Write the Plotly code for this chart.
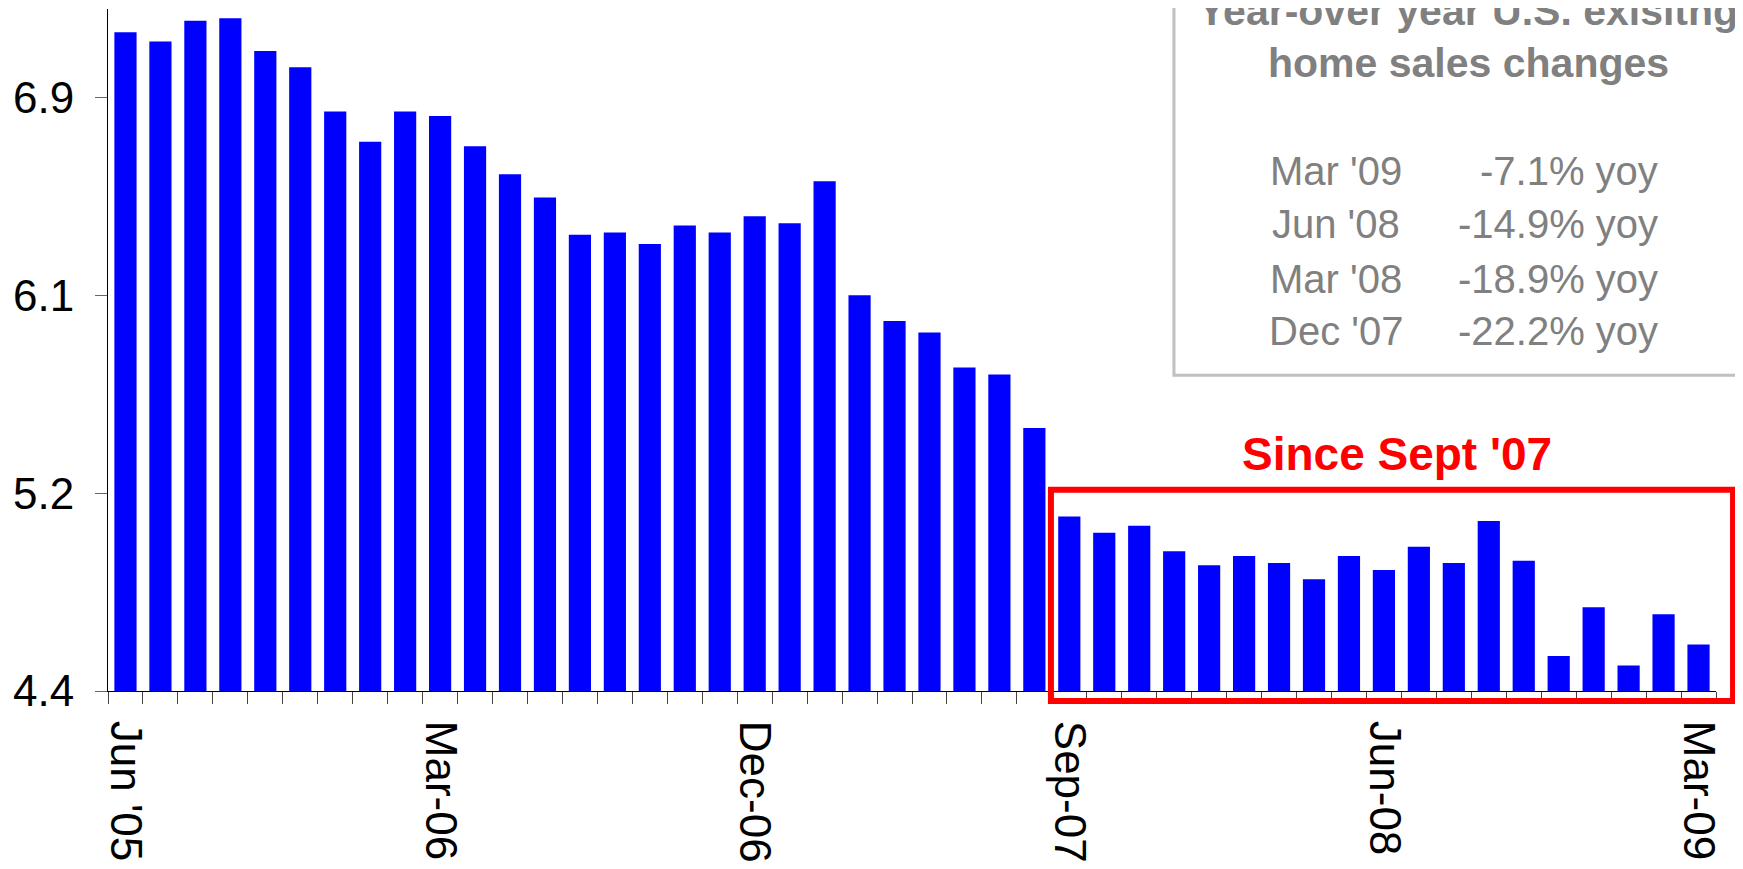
import plotly.graph_objects as go

# monthly existing home sales (millions, SAAR), Jun 2005 - Mar 2009
MONTHS = [
    "Jun-05", "Jul-05", "Aug-05", "Sep-05", "Oct-05", "Nov-05", "Dec-05",
    "Jan-06", "Feb-06", "Mar-06", "Apr-06", "May-06", "Jun-06", "Jul-06",
    "Aug-06", "Sep-06", "Oct-06", "Nov-06", "Dec-06",
    "Jan-07", "Feb-07", "Mar-07", "Apr-07", "May-07", "Jun-07", "Jul-07",
    "Aug-07", "Sep-07", "Oct-07", "Nov-07", "Dec-07",
    "Jan-08", "Feb-08", "Mar-08", "Apr-08", "May-08", "Jun-08", "Jul-08",
    "Aug-08", "Sep-08", "Oct-08", "Nov-08", "Dec-08",
    "Jan-09", "Feb-09", "Mar-09",
]
SALES = [
    7.23, 7.19, 7.28, 7.29, 7.15, 7.08, 6.89,
    6.76, 6.89, 6.87, 6.74, 6.62, 6.52, 6.36,
    6.37, 6.32, 6.40, 6.37, 6.44,
    6.41, 6.59, 6.10, 5.99, 5.94, 5.79, 5.76,
    5.53, 5.15, 5.08, 5.11,
    5.00, 4.94, 4.98, 4.95, 4.88, 4.98, 4.92, 5.02,
    4.95, 5.13, 4.96, 4.55, 4.76,
    4.51, 4.73, 4.60,
]
LABELED_MONTHS = ["Jun-05", "Mar-06", "Dec-06", "Sep-07", "Jun-08", "Mar-09"]
LABEL_TEXT = ["Jun '05", "Mar-06", "Dec-06", "Sep-07", "Jun-08", "Mar-09"]

Y_TICKS = [4.4, 5.25, 6.1, 6.95]
Y_TICK_TEXT = ["4.4", "5.2", "6.1", "6.9"]

YOY_MONTHS = ["Mar '09", "Jun '08", "Mar '08", "Dec '07"]
YOY_CHANGES = ["-7.1% yoy", "-14.9% yoy", "-18.9% yoy", "-22.2% yoy"]

FONT = "Arial, Liberation Sans, sans-serif"
GRAY = "#808080"

label_map = dict(zip(LABELED_MONTHS, LABEL_TEXT))
tick_text = [label_map.get(m, "") for m in MONTHS]

fig = go.Figure(go.Bar(
    x=MONTHS, y=SALES,
    marker_color="#0000FF",
    marker_line=dict(width=0),
    hovertemplate="%{x}: %{y:.2f}<extra></extra>",
))

# grey call-out box with the yoy figures
fig.add_shape(type="rect", xref="paper", yref="paper",
              x0=0.6629, x1=1.06, y0=0.4629, y1=1.05,
              line=dict(color="#C0C0C0", width=3), fillcolor="white", layer="below")

annotations = [
    dict(text="<b>Year-over year U.S. exisitng</b>", x=0.8458, y=0.9975,
         font=dict(size=41, color=GRAY, family=FONT)),
    dict(text="<b>home sales changes</b>", x=0.8458, y=0.9213,
         font=dict(size=41, color=GRAY, family=FONT)),
    dict(text="<b>Since Sept '07</b>", x=0.8016, y=0.3482,
         font=dict(size=46, color="#FF0000", family=FONT)),
]
row_y = [0.7629, 0.6848, 0.6045, 0.5274]
for month, change, yy in zip(YOY_MONTHS, YOY_CHANGES, row_y):
    annotations.append(dict(text=month, x=0.7637, y=yy,
                            font=dict(size=40, color=GRAY, family=FONT)))
    annotations.append(dict(text=change, x=0.9652, y=yy, xanchor="right",
                            font=dict(size=40, color=GRAY, family=FONT)))
for a in annotations:
    a.setdefault("xanchor", "center")
    a.update(xref="paper", yref="paper", showarrow=False, yanchor="middle")

# red highlight around the post Sept '07 months
fig.add_shape(type="rect", xref="paper", yref="paper",
              x0=0.5864, x1=1.0106, y0=-0.0147, y1=0.2952,
              line=dict(color="#FF0000", width=6))

# page body adds an 8px offset, so the figure is 8px smaller and margins shifted
fig.update_layout(
    width=1735, height=861,
    plot_bgcolor="white", paper_bgcolor="white",
    margin=dict(l=100, r=27, t=1, b=178),
    bargap=0.365,
    showlegend=False,
    font=dict(family=FONT, color="black"),
    annotations=annotations,
    xaxis=dict(
        type="category", tickmode="array", tickvals=MONTHS, ticktext=tick_text,
        tickson="boundaries", ticks="outside", ticklen=12, tickcolor="#444",
        tickangle=90, tickfont=dict(size=44, family=FONT, color="black"),
        ticklabelstandoff=20, automargin=False,
        showline=True, linecolor="black", linewidth=1, showgrid=False,
    ),
    yaxis=dict(
        range=[4.4, 7.33], tickmode="array", tickvals=Y_TICKS, ticktext=Y_TICK_TEXT,
        ticks="outside", ticklen=12, tickcolor="#666",
        tickfont=dict(size=44, family=FONT, color="black"),
        ticklabelstandoff=12, automargin=False,
        showline=True, linecolor="black", linewidth=1, showgrid=False, zeroline=False,
    ),
)

fig.write_html("out.html")
